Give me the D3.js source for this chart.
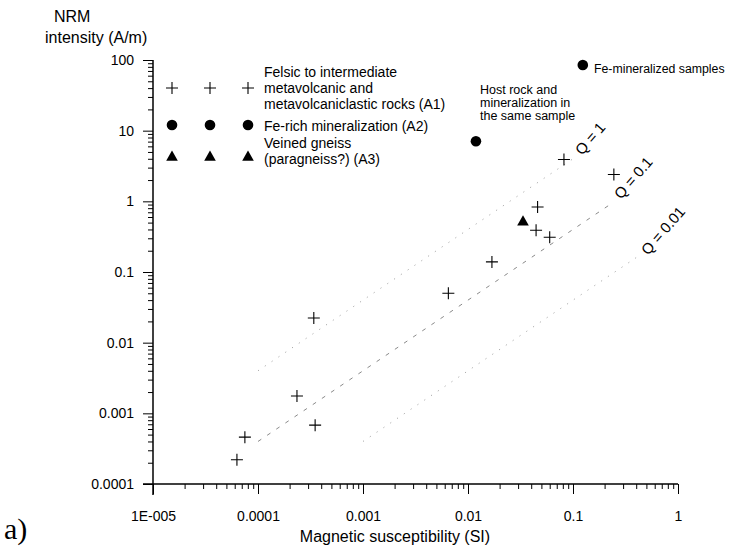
<!DOCTYPE html>
<html>
<head>
<meta charset="utf-8">
<script src="https://cdn.jsdelivr.net/npm/d3@7/dist/d3.min.js"></script>
<style>
  html, body { margin: 0; padding: 0; background: #fff; }
  svg { display: block; }
  text { font-family: "Liberation Sans", Arial, sans-serif; fill: #000; }
</style>
</head>
<body>
<svg id="chart" width="729" height="548"></svg>
<script>
// ---- data ----
const xTickValues = [1e-5, 1e-4, 1e-3, 1e-2, 1e-1, 1];
const xTickLabels = ["1E-005", "0.0001", "0.001", "0.01", "0.1", "1"];
const yTickValues = [1e-4, 1e-3, 1e-2, 1e-1, 1, 10, 100];
const yTickLabels = ["0.0001", "0.001", "0.01", "0.1", "1", "10", "100"];

// Felsic to intermediate metavolcanic rocks (A1): susceptibility (SI), NRM (A/m)
const a1K   = [6.3e-5, 7.5e-5, 2.35e-4, 3.5e-4, 3.4e-4, 6.5e-3, 0.0169, 0.046, 0.0445, 0.060, 0.082, 0.245];
const a1NRM = [2.2e-4, 4.6e-4, 1.76e-3, 6.8e-4, 0.0223, 0.050, 0.139, 0.83, 0.39, 0.31, 3.9, 2.4];
// Fe-rich mineralization (A2)
const a2K   = [0.0119, 0.124];
const a2NRM = [7.1, 85];
// Veined gneiss (A3)
const a3K   = [0.0334];
const a3NRM = [0.53];

// Koenigsberger ratio lines: Q value, susceptibility range
const qValues = [1, 0.1, 0.01];
const qLabels = ["Q = 1", "Q = 0.1", "Q = 0.01"];
const qKStart = [1e-4, 1e-4, 1e-3];
const qKEnd   = [0.1, 0.23, 0.4];
const fieldH = 40; // A/m

const legendLabels = [
  ["Felsic to intermediate", "metavolcanic and", "metavolcaniclastic rocks (A1)"],
  ["Fe-rich mineralization (A2)"],
  ["Veined gneiss", "(paragneiss?) (A3)"]
];

// ---- drawing ----
const svg = d3.select("#chart");
const x = d3.scaleLog().domain([1e-5, 1]).range([153, 678]);
const y = d3.scaleLog().domain([1e-4, 100]).range([484, 60]);

// minor tick values
const minorX = [], minorY = [];
for (let e = -5; e < 0; e++) for (let m = 2; m <= 9; m++) minorX.push(m * Math.pow(10, e));
for (let e = -4; e < 2; e++) for (let m = 2; m <= 9; m++) minorY.push(m * Math.pow(10, e));

// Q lines
const qg = svg.append("g");
qValues.forEach((q, i) => {
  const ks = [qKStart[i], qKEnd[i]];
  qg.append("line")
    .attr("x1", x(ks[0])).attr("y1", y(q * ks[0] * fieldH))
    .attr("x2", x(ks[1])).attr("y2", y(q * ks[1] * fieldH))
    .attr("stroke", i === 1 ? "#8a8a8a" : "#aaa")
    .attr("stroke-width", 1)
    .attr("stroke-dasharray", i === 1 ? "4,7" : "1.2,7");
});
const qPos = [[582, 156], [621, 200], [648, 256]];
qLabels.forEach((t, i) => {
  svg.append("text")
    .attr("transform", `translate(${qPos[i][0]},${qPos[i][1]}) rotate(-49)`)
    .attr("font-size", 15)
    .text(t);
});

// Axes
const xMajor = d3.axisBottom(x).tickValues(xTickValues)
  .tickFormat((d, i) => xTickLabels[i]).tickSize(10).tickSizeOuter(0).tickPadding(17);
const xMinor = d3.axisBottom(x).tickValues(minorX).tickFormat("").tickSize(5).tickSizeOuter(0);
const yMajor = d3.axisLeft(y).tickValues(yTickValues)
  .tickFormat((d, i) => yTickLabels[i]).tickSize(10).tickSizeOuter(0).tickPadding(9);
const yMinor = d3.axisLeft(y).tickValues(minorY).tickFormat("").tickSize(5).tickSizeOuter(0);

function styleAxis(g) {
  g.select(".domain").remove();
  g.selectAll(".tick line").attr("stroke", "#000").attr("stroke-width", 1);
  g.selectAll(".tick text").attr("font-size", 14).attr("fill", "#000");
}
svg.append("g").attr("transform", "translate(0,484)").call(xMinor).call(styleAxis);
svg.append("g").attr("transform", "translate(0,484)").call(xMajor).call(styleAxis);
svg.append("g").attr("transform", "translate(153,0)").call(yMinor).call(styleAxis);
svg.append("g").attr("transform", "translate(153,0)").call(yMajor).call(styleAxis);

// axis lines (crossing at the origin)
svg.append("line").attr("x1", 143).attr("x2", x(1)).attr("y1", y(1e-4)).attr("y2", y(1e-4))
  .attr("stroke", "#000").attr("stroke-width", 1.5);
svg.append("line").attr("x1", x(1e-5)).attr("x2", x(1e-5)).attr("y1", y(100)).attr("y2", 495)
  .attr("stroke", "#000").attr("stroke-width", 1.5);

// axis titles
svg.append("text").attr("x", 54).attr("y", 22).attr("font-size", 16).text("NRM");
svg.append("text").attr("x", 45).attr("y", 43).attr("font-size", 16).text("intensity (A/m)");
svg.append("text").attr("x", 395).attr("y", 542).attr("text-anchor", "middle")
  .attr("font-size", 16).text("Magnetic susceptibility (SI)");
svg.append("text").attr("x", 4).attr("y", 539).attr("font-size", 30)
  .style("font-family", '"Liberation Serif", "Times New Roman", serif').text("a)");

// symbol helpers
function cross(g, cx, cy) {
  g.append("path").attr("d", `M${cx - 6},${cy}H${cx + 6}M${cx},${cy - 6}V${cy + 6}`)
    .attr("stroke", "#000").attr("stroke-width", 1.1).attr("fill", "none");
}
function dot(g, cx, cy) {
  g.append("circle").attr("cx", cx).attr("cy", cy).attr("r", 5.3).attr("fill", "#000");
}
function tri(g, cx, cy) {
  g.append("path").attr("d", `M${cx},${cy - 5.5}L${cx + 5.8},${cy + 4.8}L${cx - 5.8},${cy + 4.8}Z`)
    .attr("fill", "#000");
}

// data points
const pg = svg.append("g");
a1K.forEach((k, i) => cross(pg, x(k), y(a1NRM[i])));
a2K.forEach((k, i) => dot(pg, x(k), y(a2NRM[i])));
a3K.forEach((k, i) => tri(pg, x(k), y(a3NRM[i])));

// legend
const lg = svg.append("g");
const legX = [172, 210, 248];
const legY = [88, 125, 156];
const drawers = [cross, dot, tri];
legY.forEach((ly, r) => legX.forEach(lx => drawers[r](lg, lx, ly)));
const legTextY = [[77, 93, 109], [131], [148, 164]];
legendLabels.forEach((lines, r) => lines.forEach((t, j) => {
  lg.append("text").attr("x", 264).attr("y", legTextY[r][j]).attr("font-size", 14).text(t);
}));

// annotations
svg.append("text").attr("x", 594).attr("y", 73).attr("font-size", 12.3).text("Fe-mineralized samples");
["Host rock and", "mineralization in", "the same sample"].forEach((t, j) => {
  svg.append("text").attr("x", 480).attr("y", 94 + j * 13).attr("font-size", 12.5).text(t);
});
</script>
</body>
</html>
